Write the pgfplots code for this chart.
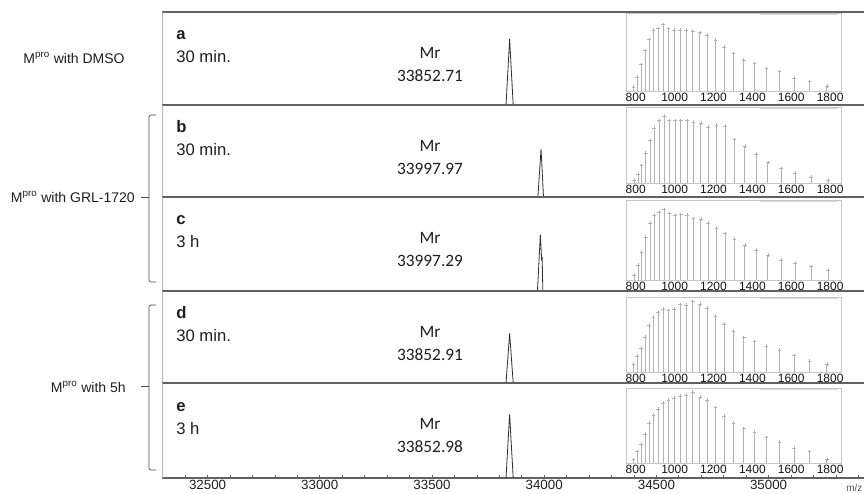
\documentclass[border=0pt]{standalone}
\usepackage{fontspec}
\setmainfont{Liberation Sans}
\newfontfamily\calfont{Carlito}
\usepackage{pgfplots}
\pgfplotsset{compat=1.18}
\definecolor{axl}{gray}{0.38}
\definecolor{txt}{gray}{0.12}
\pgfplotsset{
 panel/.style={scale only axis, width=529.5pt, xmin=32297, xmax=35443, ymin=0, ymax=1,
   xtick=\empty, ytick=\empty, separate axis lines,
   x axis line style={draw=axl, line width=0.9pt},
   y axis line style={draw=gray!55, line width=0.6pt},
   clip=false, anchor=south west},
 peak/.style={no marks, draw=gray!35!black, line width=0.6pt},
 inset/.style={scale only axis, width=161.25pt, xmin=750, xmax=1856, ymin=0, ymax=100,
   ytick=\empty, xtick={800,1000,...,1800}, major tick length=0pt, tick pos=bottom,
   axis line style={draw=gray!45, line width=0.4pt},
   tick label style={font=\fontsize{9}{10}\selectfont, text=gray!15!black},
   xticklabel style={inner sep=1.2pt},
   scaled x ticks=false,
   /pgf/number format/1000 sep={}, /pgf/number format/assume math mode=true,
   anchor=south west, clip=false},
 spec/.style={ycomb, draw=gray!60, line width=0.4pt, mark=+, mark size=1.4pt,
   mark options={draw=gray!60, line width=0.3pt}},
}
\begin{document}
\begin{tikzpicture}[x=0.75pt,y=0.75pt]
\path[use as bounding box] (0,0) rectangle (864,493);

% ---- main panels ----
\begin{axis}[panel, at={(121.5pt,291pt)}, height=69.75pt]
\addplot[peak] coordinates {(33830,0) (33846,0.71) (33862,0)};
\end{axis}
\begin{axis}[panel, at={(121.5pt,222pt)}, height=69pt]
\addplot[peak] coordinates {(33972,0) (33986,0.52) (33997,0)};
\end{axis}
\begin{axis}[panel, at={(121.5pt,151.5pt)}, height=70.5pt]
\addplot[peak] coordinates {(33970,0) (33983,0.60) (33989,0.32) (33991,0.36) (33994,0)};
\end{axis}
\begin{axis}[panel, at={(121.5pt,82.5pt)}, height=69pt]
\addplot[peak] coordinates {(33830,0) (33846,0.54) (33862,0)};
\end{axis}
\begin{axis}[panel, at={(121.5pt,11.25pt)}, height=71.25pt,
  xtick={32500,33000,...,35000}, minor xtick={32300,32400,...,35400},
  tick pos=bottom, tick align=inside, major tick length=2.5pt, minor tick length=2pt,
  tick style={draw=axl, line width=0.5pt},
  scaled x ticks=false,
  /pgf/number format/1000 sep={}, /pgf/number format/assume math mode=true,
  xticklabel style={font=\fontsize{10}{11}\selectfont, text=txt, inner sep=1.5pt}]
\addplot[peak] coordinates {(33830,0) (33846,0.67) (33862,0)};
\end{axis}

% ---- insets ----
\begin{axis}[inset, at={(469.5pt,301.5pt)}, height=58.5pt]
\addplot[spec] coordinates {(788.3,5) (807.0,18) (826.7,34) (847.3,52) (869.0,66) (891.8,78) (915.9,80) (941.3,85) (968.2,80) (996.7,78) (1026.8,78) (1058.9,78) (1093.0,77) (1129.4,75) (1168.3,72) (1210.0,65) (1254.8,56) (1303.0,48) (1355.1,40) (1411.5,35) (1472.8,29) (1539.7,25) (1613.0,17) (1693.6,12) (1782.7,6)};
\end{axis}
\begin{axis}[inset, at={(469.5pt,232.5pt)}, height=57pt]
\addplot[spec] coordinates {(791.6,4) (810.5,12) (830.2,23) (851.0,39) (872.8,56) (895.7,72) (919.9,82) (945.4,88) (972.4,82) (1000.9,82) (1031.3,82) (1063.4,82) (1097.7,80) (1134.3,79) (1173.4,74) (1215.2,76) (1260.2,75) (1308.6,57) (1360.9,49) (1417.6,38) (1479.2,27) (1546.4,19) (1620.0,13) (1700.9,8) (1790.4,4)};
\end{axis}
\begin{axis}[inset, at={(469.5pt,159.75pt)}, height=60pt]
\addplot[spec] coordinates {(791.6,6) (810.5,19) (830.2,35) (851.0,54) (872.8,71) (895.7,81) (919.9,85) (945.4,88) (972.4,83) (1000.9,81) (1031.3,82) (1063.4,81) (1097.7,77) (1134.3,76) (1173.4,71) (1215.2,65) (1260.2,58) (1308.6,51) (1360.9,44) (1417.6,37.5) (1479.2,31) (1546.4,25) (1620.0,21) (1700.9,17) (1790.4,12)};
\end{axis}
\begin{axis}[inset, at={(469.5pt,90.75pt)}, height=56.25pt]
\addplot[spec] coordinates {(788.3,10.5) (807.0,21) (826.7,32) (847.3,47) (869.0,63) (891.8,73) (915.9,80) (941.3,84) (968.2,82) (996.7,84) (1026.8,90) (1058.9,89) (1093.0,94) (1129.4,91) (1168.3,85) (1210.0,75) (1254.8,64) (1303.0,55) (1355.1,46) (1411.5,40.5) (1472.8,35) (1539.7,29) (1613.0,22) (1693.6,15) (1782.7,10.5)};
\end{axis}
\begin{axis}[inset, at={(469.5pt,22.5pt)}, height=56.25pt]
\addplot[spec] coordinates {(788.3,4.5) (807.0,15.5) (826.7,25) (847.3,39) (869.0,53) (891.8,64) (915.9,72) (941.3,80) (968.2,84) (996.7,87) (1026.8,89) (1058.9,91) (1093.0,95) (1129.4,88) (1168.3,84) (1210.0,74) (1254.8,63) (1303.0,53) (1355.1,46) (1411.5,41) (1472.8,34) (1539.7,28) (1613.0,20) (1693.6,15.5) (1782.7,4.5)};
\end{axis}

% small grey strips at the top of the insets
\foreach \t in {478.5,384.5,291.5,194.5,103.5} {\draw[gray!30, line width=0.5pt] (760,\t) -- (838,\t);}

% ---- panel texts ----
\begin{scope}[every node/.style={text=txt, inner sep=0pt}]
\foreach \ltr/\tm/\ya/\yb in {a/30 min./458/435, b/30 min./365/342, c/3 h/273/250, d/30 min./179/156, e/3 h/87/64} {
  \node[anchor=base west, font=\fontsize{12.5}{13}\selectfont\bfseries] at (176,\ya-5) {\ltr};
  \node[anchor=base west, font=\fontsize{12.5}{13}\selectfont] at (176,\yb-5) {\tm};
}
\foreach \num/\ya/\yb in {33852.71/440/417, 33997.97/347/324, 33997.29/255/232, 33852.91/161/138, 33852.98/69/46} {
  \node[font=\calfont\fontsize{13}{14}\selectfont] at (430,\ya) {Mr};
  \node[font=\calfont\fontsize{13}{14}\selectfont] at (430,\yb) {\num};
}
% left labels
\node[font=\fontsize{10.5}{11}\selectfont] at (74,435) {M\textsuperscript{pro} with DMSO};
\node[anchor=east, font=\fontsize{10.5}{11}\selectfont] at (135,296) {M\textsuperscript{pro} with GRL-1720};
\node[anchor=east, font=\fontsize{10.5}{11}\selectfont] at (126,106) {M\textsuperscript{pro} with 5h};
\node[anchor=west, font=\fontsize{7.5}{8}\selectfont, text=gray!70!black] at (846,5) {m/z};
\end{scope}

% brackets
\draw[gray!60!black, line width=0.5pt, rounded corners=1.5pt] (156,378) -- (149,378) -- (149,211) -- (156,211);
\draw[gray!60!black, line width=0.5pt] (141,296) -- (149,296);
\draw[gray!60!black, line width=0.5pt, rounded corners=1.5pt] (156,188) -- (149,188) -- (149,23) -- (156,23);
\draw[gray!60!black, line width=0.5pt] (141,107) -- (149,107);
\end{tikzpicture}
\end{document}
